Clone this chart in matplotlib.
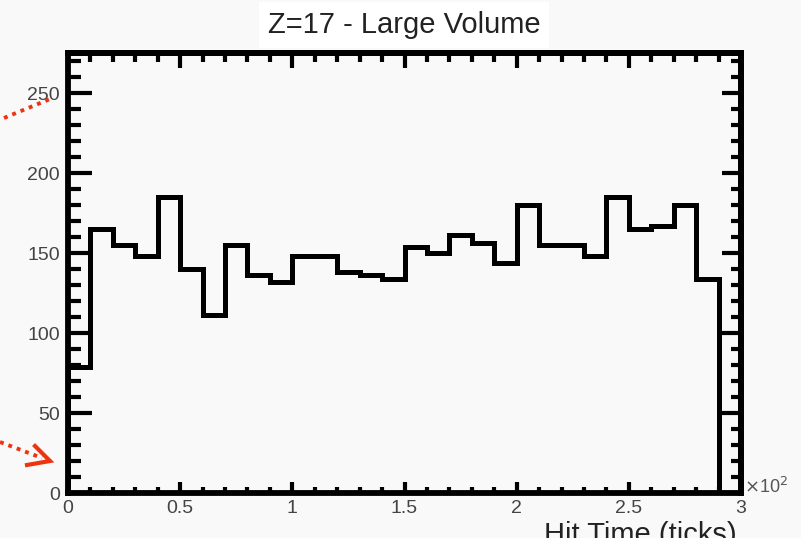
import numpy as np
import matplotlib
matplotlib.use("Agg")
import matplotlib.pyplot as plt
from matplotlib.lines import Line2D
from matplotlib.ticker import MultipleLocator

# ---- data (Hit Time in units of 10^2 ticks) ----
bin_edges = [round(0.1 * i, 1) for i in range(31)]
counts = [79, 165, 155, 148, 185, 140, 111, 155, 136, 132,
          148, 148, 138, 136, 134, 154, 150, 161, 156, 144,
          180, 155, 155, 148, 185, 165, 167, 180, 134, 0]
y_ticks = [0, 50, 100, 150, 200, 250]
x_ticks = [0, 0.5, 1, 1.5, 2, 2.5, 3]
x_tick_labels = ["0", "0.5", "1", "1.5", "2", "2.5", "3"]
title = "Z=17 - Large Volume"
x_label = "Hit Time (ticks)"

plt.rcParams['font.family'] = ['Liberation Sans', 'DejaVu Sans']

W, H = 801, 538
bg = '#f9f9f9'
fig = plt.figure(figsize=(W / 100, H / 100), dpi=100, facecolor=bg)
L, R, B, T = 68, 741, 493, 53
ax = fig.add_axes([L / W, 1 - B / H, (R - L) / W, (B - T) / H], facecolor=bg)

ax.stairs(counts, bin_edges, baseline=0, color='black', linewidth=3.6, zorder=3)

ax.set_xlim(0, 3)
ax.set_ylim(0, 275)
for s in ax.spines.values():
    s.set_linewidth(4.2)
    s.set_zorder(5)

ax.set_xticks(x_ticks)
ax.set_xticklabels(x_tick_labels)
ax.set_yticks(y_ticks)
ax.xaxis.set_minor_locator(MultipleLocator(0.1))
ax.yaxis.set_minor_locator(MultipleLocator(10))

lab_col = '#444444'
ax.tick_params(axis='y', which='major', direction='in', length=17, width=3.0,
               labelsize=14, pad=6, colors='black', labelcolor=lab_col)
ax.tick_params(axis='y', which='minor', direction='in', length=9, width=3.0)
ax.tick_params(axis='x', which='major', direction='in', length=8, width=3.0,
               labelsize=14, pad=5, colors='black', labelcolor=lab_col)
ax.tick_params(axis='x', which='minor', direction='in', length=4, width=3.0)

# top and right tick marks
sx = ax.secondary_xaxis('top')
sx.set_xticks(x_ticks)
sx.xaxis.set_minor_locator(MultipleLocator(0.1))
sx.tick_params(which='major', direction='in', length=11, width=3.0, labeltop=False)
sx.tick_params(which='minor', direction='in', length=6.5, width=3.0)
sx.spines['top'].set_linewidth(4.2)
sy = ax.secondary_yaxis('right')
sy.set_yticks(y_ticks)
sy.yaxis.set_minor_locator(MultipleLocator(10))
sy.tick_params(which='major', direction='in', length=14, width=3.0, labelright=False)
sy.tick_params(which='minor', direction='in', length=7, width=3.0)
sy.spines['right'].set_linewidth(4.2)

# title in white box
fig.text(404 / W, 1 - 25 / H, title, ha='center', va='center', fontsize=21,
         color='#222222',
         bbox=dict(boxstyle='square,pad=0.3', facecolor='white', edgecolor='none'))

# exponent
fig.text(744 / W, 1 - 487 / H, r'$\times$10$^{2}$', ha='left', va='center',
         fontsize=13, color='#555555')

# axis title (partially cut by figure edge, as in the reference)
fig.text(737 / W, 1 - 521 / H, x_label, ha='right', va='top', fontsize=21,
         color='#222222')

# red dotted overlay arrows
red = '#ee3311'
fig.add_artist(Line2D([4 / W, 50 / W], [1 - 118 / H, 1 - 99 / H],
                      transform=fig.transFigure, color=red, linewidth=2.8,
                      linestyle=(0, (1, 1.3))))
fig.add_artist(Line2D([0 / W, 42 / W], [1 - 442 / H, 1 - 458 / H],
                      transform=fig.transFigure, color=red, linewidth=2.8,
                      linestyle=(0, (1, 1.3))))
fig.add_artist(Line2D([35 / W, 50 / W, 27 / W], [1 - 446 / H, 1 - 461 / H, 1 - 465 / H],
                      transform=fig.transFigure, color=red, linewidth=3.0,
                      solid_joinstyle='miter'))

fig.savefig('out.png', dpi=100, facecolor=bg)
